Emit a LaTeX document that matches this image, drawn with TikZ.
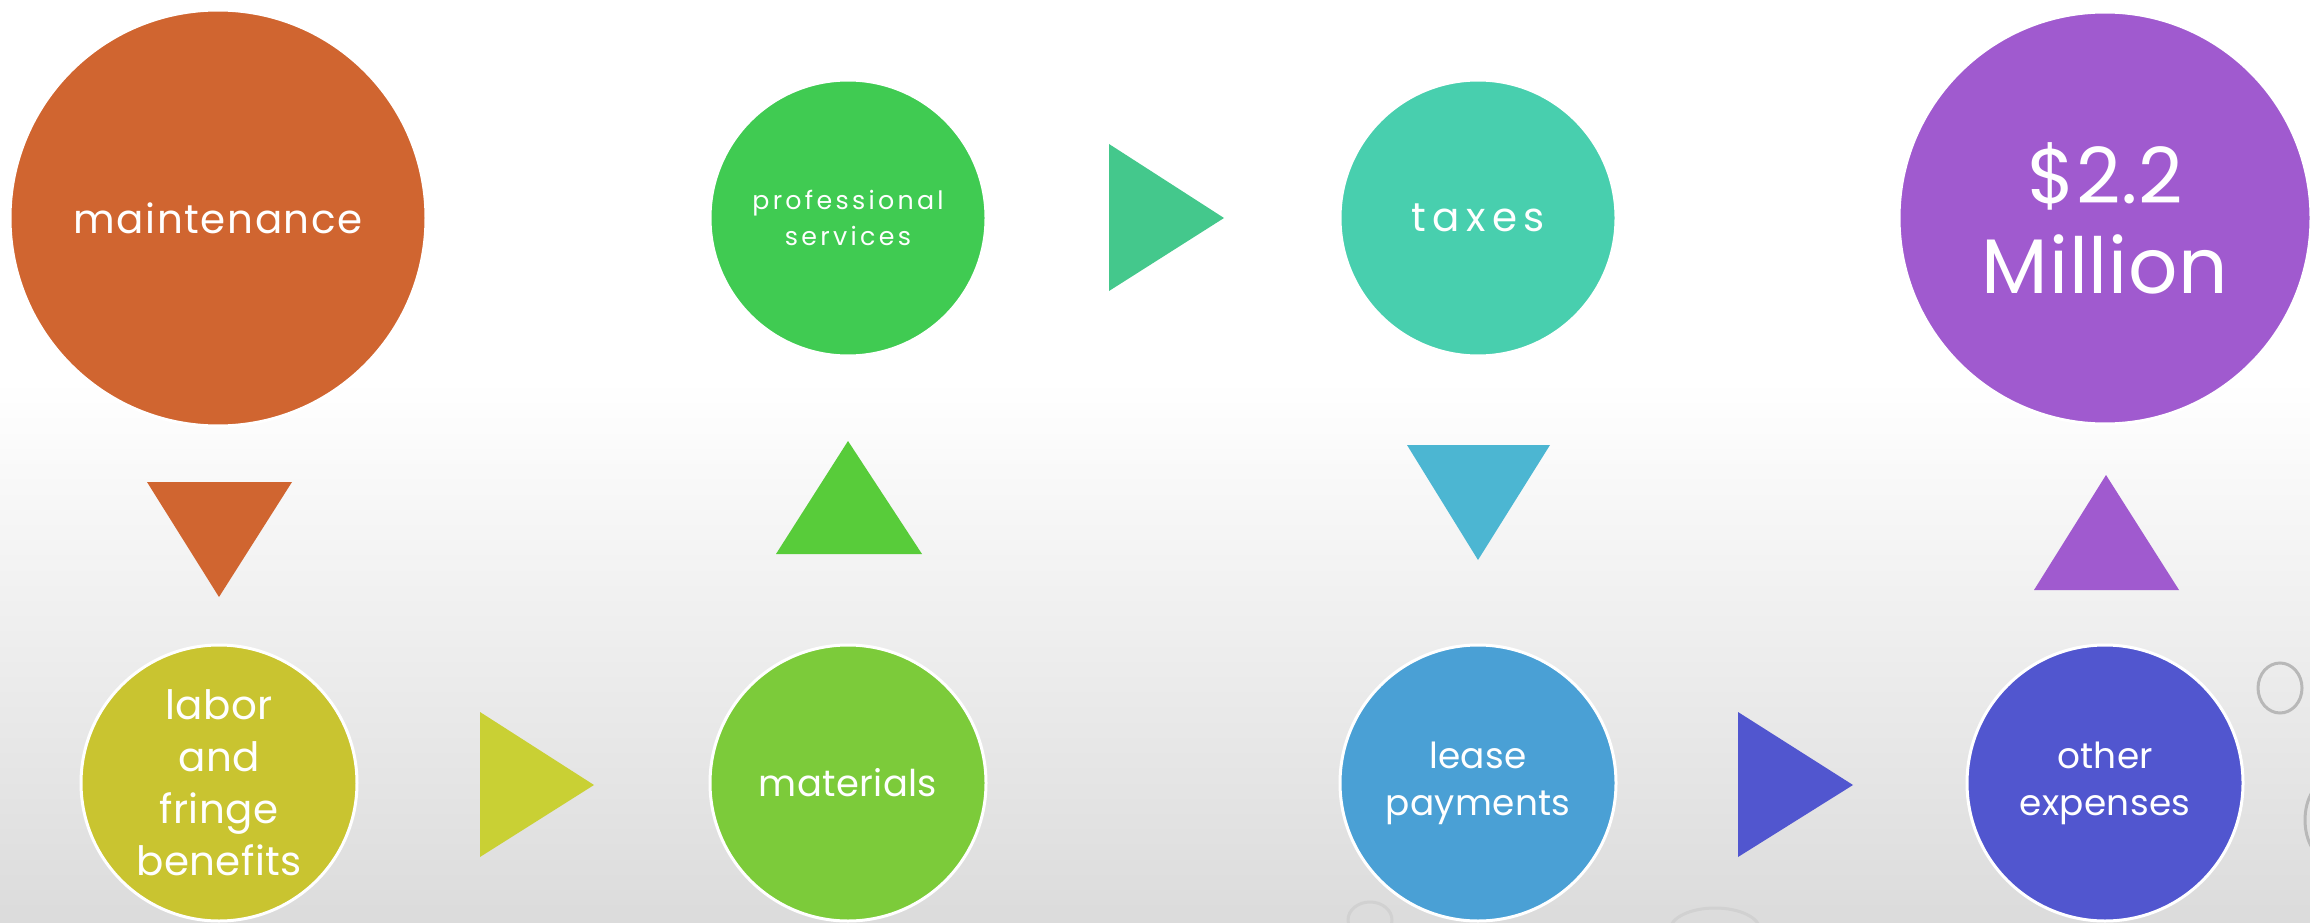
\documentclass[tikz,border=0pt]{standalone}
\usepackage{fontspec}
\setmainfont{Poppins}
\newfontfamily\trkZ{Poppins}[LetterSpace=1]
\newfontfamily\trkA{Poppins}[LetterSpace=4]
\newfontfamily\trkC{Poppins}[LetterSpace=13]
\newfontfamily\trkD{Poppins}[LetterSpace=16]
\usetikzlibrary{calc}
\definecolor{cOrange}{RGB}{208,101,48}
\definecolor{cOlive}{RGB}{201,196,48}
\definecolor{cLime}{RGB}{201,208,52}
\definecolor{cMat}{RGB}{124,203,58}
\definecolor{cProf}{RGB}{64,203,82}
\definecolor{cTriG}{RGB}{88,204,58}
\definecolor{cTriT}{RGB}{68,200,140}
\definecolor{cTax}{RGB}{72,207,174}
\definecolor{cTriB}{RGB}{76,182,210}
\definecolor{cLease}{RGB}{74,160,213}
\definecolor{cInd}{RGB}{81,86,207}
\definecolor{cPurp}{RGB}{160,90,207}
\tikzset{
  circ/.style={circle, draw=white, line width=0.3mm, inner sep=0pt, align=center,
    text=white, minimum size=#1},
  drop/.style={draw=black!28, line width=0.3mm},
}
\begin{document}
\begin{tikzpicture}[x=0.1mm,y=-0.1mm]
\useasboundingbox (0,0) rectangle (2310,923);
\fill[white] (0,0) rectangle (2310,923);
\shade[top color=white, bottom color=black!14] (0,380) rectangle (2310,923);
% droplets
\draw[drop] (2280,688) ellipse (22 and 25);
\draw[drop] (2330,820) ellipse (25 and 40);
\draw[drop, black!18] (1370,920) ellipse (22 and 18);
\draw[drop, black!18] (1715,930) ellipse (45 and 22);
% circles
\node[circ=41.6mm, fill=cOrange, font={\trkA\fontsize{11.5}{14}\selectfont}] (maint) at (218,218)
  {maintenance};
\node[circ=27.6mm, fill=cOlive, font={\trkZ\fontsize{11.5}{14.8}\selectfont}] (labor) at (219,783)
  {labor\\and\\fringe\\benefits};
\node[circ=27.6mm, fill=cMat, font={\trkZ\fontsize{10.5}{14}\selectfont}] (mat) at (848,783)
  {materials};
\node[circ=27.6mm, fill=cProf, font={\trkC\fontsize{7.2}{10.2}\selectfont}] (prof) at (848,218)
  {professional\\services};
\node[circ=27.6mm, fill=cTax, font={\trkD\fontsize{11.5}{14}\selectfont}] (tax) at (1478,218)
  {taxes};
\node[circ=27.6mm, fill=cLease, font={\trkZ\fontsize{10.2}{13.4}\selectfont}] (lease) at (1478,783)
  {lease\\payments};
\node[circ=27.6mm, fill=cInd, font={\trkZ\fontsize{10.2}{13.4}\selectfont}] (other) at (2105,783)
  {other\\expenses};
\node[circ=41.2mm, fill=cPurp, font={\trkZ\fontsize{22}{25.6}\selectfont}] (mil) at (2105,218)
  {\$2.2\\Million};
% triangles (arrows)
\fill[cOrange] (147,482) -- (292,482) -- (219,597) -- cycle;
\fill[cLime] (480,712) -- (480,857) -- (594,785) -- cycle;
\fill[cTriG] (776,554) -- (922,554) -- (848,441) -- cycle;
\fill[cTriT] (1109,144) -- (1109,291) -- (1224,218) -- cycle;
\fill[cTriB] (1407,445) -- (1550,445) -- (1478,560) -- cycle;
\fill[cInd] (1738,712) -- (1738,857) -- (1853,785) -- cycle;
\fill[cPurp] (2034,590) -- (2179,590) -- (2106,475) -- cycle;
\end{tikzpicture}
\end{document}
